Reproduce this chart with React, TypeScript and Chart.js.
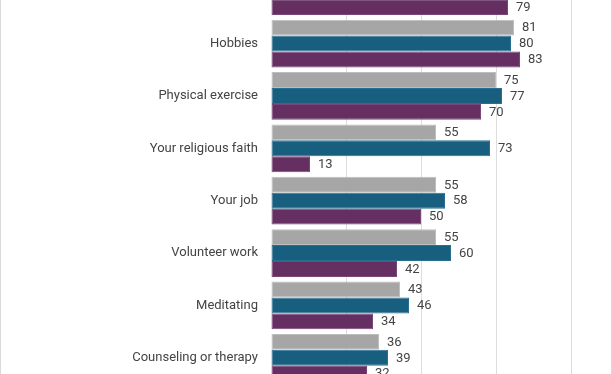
import React, { useEffect, useRef } from "react";
import { Chart, registerables } from "chart.js";

Chart.register(...registerables);

// Categories (the first one is cut off at the top of the reference picture)
const categories = [
  "Spending time with family",
  "Hobbies",
  "Physical exercise",
  "Your religious faith",
  "Your job",
  "Volunteer work",
  "Meditating",
  "Counseling or therapy",
];

const seriesNames = ["All U.S. adults", "Religiously affiliated", "Religiously unaffiliated"];
const allAdults = [84, 81, 75, 55, 55, 55, 43, 36];
const affiliated = [82, 80, 77, 73, 58, 60, 46, 39];
const unaffiliated = [79, 83, 70, 13, 50, 42, 34, 32];

const xMin = 0;
const xMax = 100;
const xStep = 25;

const fills = ["#a6a6a6", "#185e7e", "#652f62"];
const borders = ["#bdbdbd", "#2b6f90", "#7a4577"];

const valueLabels = {
  id: "valueLabels",
  afterDatasetsDraw(chart: any) {
    const ctx = chart.ctx;
    ctx.save();
    ctx.font = "13px Roboto";
    ctx.fillStyle = "#444444";
    ctx.textAlign = "left";
    ctx.textBaseline = "middle";
    chart.data.datasets.forEach((ds: any, di: number) => {
      const meta = chart.getDatasetMeta(di);
      meta.data.forEach((el: any, i: number) => {
        const v = ds.data[i];
        if (v == null) return;
        ctx.fillText(String(v), el.x + 8, el.y + 0.5);
      });
    });
    ctx.restore();
  },
};

export default function App() {
  const ref = useRef<HTMLCanvasElement | null>(null);

  useEffect(() => {
    if (!ref.current) return;
    const data = [allAdults, affiliated, unaffiliated];
    const chart = new Chart(ref.current, {
      type: "bar",
      data: {
        labels: categories,
        datasets: data.map((d, i) => ({
          label: seriesNames[i],
          data: d,
          backgroundColor: fills[i],
          borderColor: borders[i],
          borderWidth: 1,
          borderSkipped: false,
          categoryPercentage: 0.91,
          barPercentage: 1,
        })),
      },
      options: {
        indexAxis: "y",
        responsive: false,
        animation: false,
        devicePixelRatio: 1,
        layout: { padding: { left: 0, right: 41, top: 0, bottom: 0 } },
        plugins: {
          legend: { display: false },
          tooltip: { enabled: false },
        },
        scales: {
          x: {
            min: xMin,
            max: xMax,
            ticks: { stepSize: xStep, display: false },
            grid: {
              drawTicks: false,
              color: (c: any) => (c.tick && c.tick.value === 0 ? "rgba(0,0,0,0)" : "#dcdcdc"),
              lineWidth: 1,
            },
            border: { display: false },
          },
          y: {
            grid: { display: false, drawTicks: false },
            border: { display: false },
            ticks: {
              font: { family: "Roboto", size: 13 },
              color: "#444444",
              padding: 13,
            },
            afterFit: (s: any) => {
              s.width = 271;
              s.paddingTop = 0;
              s.paddingBottom = 0;
            },
          },
        },
      },
      plugins: [valueLabels],
    } as any);
    return () => chart.destroy();
  }, []);

  return (
    <div
      style={{
        position: "fixed",
        left: 0,
        top: 0,
        width: 612,
        height: 374,
        overflow: "hidden",
        background: "#ffffff",
      }}
    >
      <canvas
        ref={ref}
        width={612}
        height={419}
        style={{ position: "absolute", left: 0, top: -35, width: 612, height: 419 }}
      />
      <div style={{ position: "absolute", left: 0, top: 0, width: 1, height: 374, background: "#d9d9d9" }} />
      <div style={{ position: "absolute", left: 611, top: 0, width: 1, height: 374, background: "#d9d9d9" }} />
    </div>
  );
}
